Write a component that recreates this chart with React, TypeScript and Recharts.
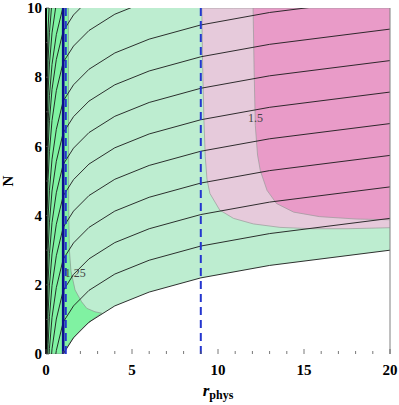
import React from 'react';
import { ComposedChart, Area, Line, XAxis, YAxis, ReferenceLine, ReferenceDot } from 'recharts';

// r values shared by the black contour curves
const rGrid = [0.02, 0.04, 0.07, 0.12, 0.2, 0.35, 0.6, 1, 1.6, 2.5, 4, 6, 9, 13, 20];

// N of each black curve at rGrid (lowest curve first)
const contourN = [
  [-6.26, -5.15, -4.26, -3.39, -2.58, -1.68, -0.82, 0, 0.47, 0.92, 1.39, 1.79, 2.2, 2.56, 3.0],
  [-5.34, -4.23, -3.34, -2.47, -1.66, -0.76, 0.1, 0.92, 1.39, 1.84, 2.31, 2.71, 3.12, 3.48, 3.92],
  [-4.43, -3.32, -2.43, -1.56, -0.75, 0.15, 1.01, 1.83, 2.3, 2.75, 3.22, 3.62, 4.03, 4.39, 4.83],
  [-3.52, -2.41, -1.52, -0.65, 0.16, 1.06, 1.92, 2.74, 3.21, 3.66, 4.13, 4.53, 4.94, 5.3, 5.74],
  [-2.6, -1.49, -0.6, 0.27, 1.08, 1.98, 2.84, 3.66, 4.13, 4.58, 5.05, 5.45, 5.86, 6.22, 6.66],
  [-1.69, -0.58, 0.31, 1.18, 1.99, 2.89, 3.75, 4.57, 5.04, 5.49, 5.96, 6.36, 6.77, 7.13, 7.57],
  [-0.78, 0.33, 1.22, 2.09, 2.9, 3.8, 4.66, 5.48, 5.95, 6.4, 6.87, 7.27, 7.68, 8.04, 8.48],
  [0.13, 1.24, 2.13, 3.0, 3.81, 4.71, 5.57, 6.39, 6.86, 7.31, 7.78, 8.18, 8.59, 8.95, 9.39],
  [1.05, 2.16, 3.05, 3.92, 4.73, 5.63, 6.49, 7.31, 7.78, 8.23, 8.7, 9.1, 9.51, 9.87, 10.31],
  [2.17, 3.28, 4.17, 5.04, 5.85, 6.75, 7.61, 8.43, 8.9, 9.35, 9.82, 10.22],
  [3.07, 4.18, 5.07, 5.94, 6.75, 7.65, 8.51, 9.33, 9.8, 10.25],
  [3.79, 4.9, 5.79, 6.66, 7.47, 8.37, 9.23, 10.05],
  [4.7, 5.81, 6.7, 7.57, 8.38, 9.28, 10.14],
  [5.61, 6.72, 7.61, 8.48, 9.29, 10.19],
  [6.52, 7.63, 8.52, 9.39, 10.2],
];

// light green region (everything above the lowest curve)
const greenR = [0, 0.6, 1, 1.6, 2.5, 4, 6, 9, 13, 20];
const greenLow = [0, 0, 0, 0.47, 0.92, 1.39, 1.79, 2.2, 2.56, 3.0];

// bright green region (the 1.25 contour)
const brightR = [0, 1, 1.3, 1.32, 1.36, 1.45, 1.69, 2.07, 2.37, 2.85, 3.24];
const brightLow = [0, 0, 0.26, 0.28, 0.31, 0.37, 0.52, 0.73, 0.86, 1.05, 1.18];
const brightHigh = [10, 10, 10, 4.2, 3.0, 2.4, 1.85, 1.51, 1.32, 1.22, 1.18];

// light pink region
const pinkR = [9.06, 9.1, 9.18, 9.26, 9.36, 9.53, 10.1, 10.9, 12.05, 13.6, 15.5, 17.5, 20];
const pinkLow = [10, 8.5, 6.8, 5.7, 5.05, 4.64, 4.16, 3.92, 3.76, 3.66, 3.62, 3.62, 3.65];

// magenta region (the 1.5 contour)
const magR = [12.04, 12.1, 12.17, 12.3, 12.46, 12.85, 13.4, 14.4, 15.9, 18.07, 20];
const magLow = [10, 8.2, 6.6, 5.75, 5.3, 4.73, 4.35, 4.1, 3.97, 3.9, 3.88];

const contourLabels = [
  { r: 12.18, n: 6.82, text: '1.5' },
  { r: 1.7, n: 2.34, text: '1.25' },
];

const solidX = [1];
const dashedX = [1.15, 9];

const xTicks = [0, 1, 2, 3, 4, 5, 6, 7, 8, 9, 10, 11, 12, 13, 14, 15, 16, 17, 18, 19, 20];
const yTicks = [0, 1, 2, 3, 4, 5, 6, 7, 8, 9, 10];

const TOP = 10;
const serif = "'Liberation Serif', 'Times New Roman', serif";

const toRange = (rs: number[], lows: number[], highs?: number[]) =>
  rs.map((r, i) => ({ r, range: [lows[i], highs ? highs[i] : TOP] }));

const curves = contourN.map((ns) => ns.map((n, i) => ({ r: rGrid[i], n })));

function BottomTick({ x, y, payload }: any) {
  const major = payload.value % 5 === 0;
  const axisY = y - 10;
  return (
    <g>
      <line x1={x} x2={x} y1={axisY} y2={axisY - (major ? 5 : 3)} stroke="#555" strokeWidth={0.8} />
      {major && (
        <text x={x} y={y} dy="0.72em" textAnchor="middle" style={{ fontFamily: serif, fontWeight: 700, fontSize: 15 }} fill="#000">
          {payload.value}
        </text>
      )}
    </g>
  );
}

function LeftTick({ x, y, payload }: any) {
  if (payload.value % 2 !== 0) return null;
  return (
    <text x={x} y={y} dy="0.35em" textAnchor="end" style={{ fontFamily: serif, fontWeight: 700, fontSize: 15 }} fill="#000">
      {payload.value}
    </text>
  );
}

function XTitle({ viewBox }: any) {
  const cx = viewBox.x + viewBox.width / 2;
  return (
    <text x={cx} y={viewBox.y + 42} textAnchor="middle" style={{ fontFamily: serif, fontWeight: 700 }} fill="#000">
      <tspan style={{ fontStyle: 'italic', fontSize: 17 }}>r</tspan>
      <tspan style={{ fontSize: 12 }} dy={3}>phys</tspan>
    </text>
  );
}

function YTitle({ viewBox }: any) {
  const x = viewBox.x + 13;
  const y = viewBox.y + viewBox.height / 2;
  return (
    <text x={x} y={y} transform={`rotate(-90, ${x}, ${y})`} textAnchor="middle" style={{ fontFamily: serif, fontWeight: 700, fontSize: 15 }} fill="#000">
      N
    </text>
  );
}

export default function App() {
  return (
    <div style={{ position: 'absolute', left: 0, top: 0, background: '#fff' }}>
      <ComposedChart width={399} height={405} margin={{ top: 7, right: 8, bottom: 0, left: 0 }}>
        <XAxis
          dataKey="r"
          type="number"
          domain={[0, 20]}
          allowDataOverflow
          ticks={xTicks}
          interval={0}
          height={51}
          axisLine={false}
          tickLine={false}
          tickSize={0}
          tickMargin={10}
          tick={<BottomTick />}
          label={<XTitle />}
        />
        <XAxis
          xAxisId="top"
          orientation="top"
          type="number"
          domain={[0, 20]}
          ticks={xTicks}
          interval={0}
          height={1}
          axisLine={false}
          tickSize={-3}
          tick={false}
          tickLine={{ stroke: '#555', strokeWidth: 0.8 }}
        />
        <YAxis
          type="number"
          domain={[0, TOP]}
          allowDataOverflow
          ticks={yTicks}
          interval={0}
          width={46}
          axisLine={{ stroke: '#000', strokeWidth: 2 }}
          tickLine={{ stroke: '#555', strokeWidth: 0.8 }}
          tickSize={-3}
          tickMargin={7}
          tick={<LeftTick />}
          label={<YTitle />}
        />
        <YAxis
          yAxisId="right"
          orientation="right"
          type="number"
          domain={[0, TOP]}
          ticks={yTicks}
          interval={0}
          width={1}
          axisLine={{ stroke: '#808080', strokeWidth: 1 }}
          tickLine={{ stroke: '#555', strokeWidth: 0.8 }}
          tickSize={-3}
          tick={false}
        />

        <Area data={toRange(greenR, greenLow)} dataKey="range" type="linear" fill="#bdedd0" fillOpacity={1} stroke="none" isAnimationActive={false} dot={false} activeDot={false} />
        <Area data={toRange(brightR, brightLow, brightHigh)} dataKey="range" type="linear" fill="#80f2a2" fillOpacity={1} stroke="#8a9a8f" strokeWidth={0.7} isAnimationActive={false} dot={false} activeDot={false} />
        <Area data={toRange(pinkR, pinkLow)} dataKey="range" type="linear" fill="#e6cadb" fillOpacity={1} stroke="#999" strokeWidth={0.7} isAnimationActive={false} dot={false} activeDot={false} />
        <Area data={toRange(magR, magLow)} dataKey="range" type="linear" fill="#e99bc8" fillOpacity={1} stroke="#999" strokeWidth={0.7} isAnimationActive={false} dot={false} activeDot={false} />

        {curves.map((c, i) => (
          <Line key={i} data={c} dataKey="n" type="linear" stroke="#1a1a1a" strokeWidth={0.9} dot={false} activeDot={false} isAnimationActive={false} />
        ))}

        {contourLabels.map((l) => (
          <ReferenceDot
            key={l.text}
            x={l.r}
            y={l.n}
            r={0}
            fill="none"
            stroke="none"
            label={{ value: l.text, position: 'center', fill: '#444', fontSize: 12, fontFamily: serif }}
          />
        ))}

        {solidX.map((x) => (
          <ReferenceLine key={`s${x}`} x={x} stroke="#0c0c8e" strokeWidth={2.6} />
        ))}
        {dashedX.map((x) => (
          <ReferenceLine key={`d${x}`} x={x} stroke="#2436cf" strokeWidth={2} strokeDasharray="8 5" />
        ))}
      </ComposedChart>
    </div>
  );
}
